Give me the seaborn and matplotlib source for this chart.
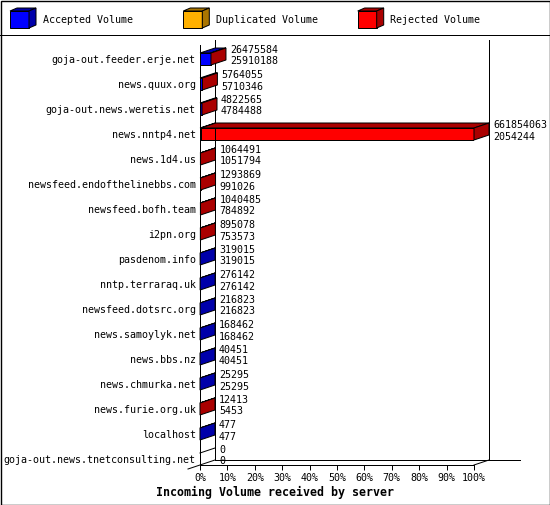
import numpy as np
import pandas as pd
import matplotlib
matplotlib.use("Agg")
import matplotlib.pyplot as plt
import seaborn as sns
from matplotlib.patches import Polygon, Rectangle
from matplotlib.lines import Line2D
from matplotlib.transforms import IdentityTransform

# ---------------- data ----------------
servers = [
    "goja-out.feeder.erje.net", "news.quux.org", "goja-out.news.weretis.net",
    "news.nntp4.net", "news.1d4.us", "newsfeed.endofthelinebbs.com",
    "newsfeed.bofh.team", "i2pn.org", "pasdenom.info", "nntp.terraraq.uk",
    "newsfeed.dotsrc.org", "news.samoylyk.net", "news.bbs.nz",
    "news.chmurka.net", "news.furie.org.uk", "localhost",
    "goja-out.news.tnetconsulting.net",
]
total_volume = [26475584, 5764055, 4822565, 661854063, 1064491, 1293869,
                1040485, 895078, 319015, 276142, 216823, 168462, 40451,
                25295, 12413, 477, 0]
accepted_volume = [25910188, 5710346, 4784488, 2054244, 1051794, 991026,
                   784892, 753573, 319015, 276142, 216823, 168462, 40451,
                   25295, 5453, 477, 0]
duplicated_volume = [0] * len(servers)
legend_labels = ["Accepted Volume", "Duplicated Volume", "Rejected Volume"]
tick_values = [0, 10, 20, 30, 40, 50, 60, 70, 80, 90, 100]
tick_labels = ["0%", "10%", "20%", "30%", "40%", "50%", "60%", "70%",
               "80%", "90%", "100%"]
x_title = "Incoming Volume received by server"

# ---------------- style ----------------
W, H = 550, 505
DPI = 100
DX, DY = 15, 5          # 3-D depth in pixels
FRONT = ["#0000ff", "#ffb000", "#ff0000"]
DARK = ["#0000aa", "#aa7500", "#aa0000"]
MONO = "DejaVu Sans Mono"
FS = 7.2
LW = 0.72

plt.rcParams["font.family"] = MONO

vmax = max(total_volume)
df = pd.DataFrame({
    "server": servers,
    "total_pct": [v / vmax * 100 for v in total_volume],
    "accepted_pct": [v / vmax * 100 for v in accepted_volume],
})

fig = plt.figure(figsize=(W / DPI, H / DPI), dpi=DPI)
fig.patch.set_facecolor("white")
ax = fig.add_axes([200 / W, (H - 465) / H, 274 / W, 420 / H])

BAR_T = 0.48
sns.barplot(data=df, x="total_pct", y="server", orient="h", color=FRONT[2],
            saturation=1, width=BAR_T, edgecolor="black", linewidth=LW,
            errorbar=None, ax=ax, zorder=3)
sns.barplot(data=df, x="accepted_pct", y="server", orient="h", color=FRONT[0],
            saturation=1, width=BAR_T, edgecolor="black", linewidth=LW,
            errorbar=None, ax=ax, zorder=3)

n = len(servers)
ax.set_xlim(0, 100)
ax.set_ylim(16.24, -0.56)
ax.set_facecolor("none")
for s in ["top", "right"]:
    ax.spines[s].set_visible(False)
for s in ["left", "bottom"]:
    ax.spines[s].set_linewidth(LW)
ax.set_xticks(tick_values)
ax.set_xticklabels(tick_labels, fontsize=FS, family=MONO)
ax.tick_params(axis="x", length=5 * 0.72, width=LW, pad=2)
ax.tick_params(axis="y", length=0, pad=3, labelsize=FS)
ax.set_ylabel("")
ax.set_xlabel(x_title, fontsize=8.4, fontweight="bold", family=MONO)
ax.xaxis.set_label_coords((275 - 200) / 274, (465 - 492) / 420)
ax.xaxis.label.set_va("center")

ID = IdentityTransform()
tD = ax.transData


def poly(pts, fc, z=4):
    p = Polygon(pts, closed=True, facecolor=fc, edgecolor="black",
                linewidth=LW, transform=ID, zorder=z, clip_on=False)
    fig.add_artist(p)


def line(xs, ys, z=2):
    fig.add_artist(Line2D(xs, ys, color="black", linewidth=LW,
                          transform=ID, zorder=z))


# back wall / floor lines (derived from the axes box)
bb = ax.get_window_extent()
x0, x1, yb, yt = bb.x0, bb.x1, bb.y0, bb.y1
line([x0 + DX, x0 + DX], [yb + DY, yt + DY])
line([x1 + DX, x1 + DX], [yb + DY, yt + DY])
line([x0 + DX, x1 + DX + 31], [yb + DY, yb + DY])
line([x0 - 12, x0 + DX], [yb - 4, yb + DY])
line([x1, x1 + DX], [yb, yb + DY])

# 3-D faces and value labels
for i in range(n):
    t = df["total_pct"][i]
    a = df["accepted_pct"][i]
    X0, YT = tD.transform((0, i - BAR_T / 2))
    _, YB = tD.transform((0, i + BAR_T / 2))
    _, YC = tD.transform((0, i))
    segs = []
    xa = tD.transform((a, i))[0]
    xt = tD.transform((t, i))[0]
    if accepted_volume[i] > 0:
        segs.append((X0, xa, 0))
    if total_volume[i] - accepted_volume[i] > 0:
        segs.append((xa, xt, 2))
    for (s0, s1, k) in segs:
        poly([(s0, YT), (s1, YT), (s1 + DX, YT + DY), (s0 + DX, YT + DY)], DARK[k])
    if segs:
        s0, s1, k = segs[-1]
        poly([(s1, YT), (s1 + DX, YT + DY), (s1 + DX, YB + DY), (s1, YB)], DARK[k])
        xe = s1
    else:
        line([X0, X0 + DX], [YT, YT + DY], z=4)
        xe = X0
    fig.text(xe + DX + 4, YC + 9, f"{total_volume[i]}", transform=ID,
             fontsize=FS, family=MONO, va="center", ha="left")
    fig.text(xe + DX + 4, YC - 2.5, f"{accepted_volume[i]}", transform=ID,
             fontsize=FS, family=MONO, va="center", ha="left")

# legend (top strip)
def img(x, y):
    return (x, H - y)

for k, (lab, bx) in enumerate(zip(legend_labels, [10, 183.3, 357.7])):
    fx0, fx1, fy0, fy1 = bx, bx + 19, 11, 28
    poly([img(fx0, fy0), img(fx1, fy0), img(fx1, fy1), img(fx0, fy1)], FRONT[k], z=5)
    poly([img(fx0, fy0), img(fx0 + 7, fy0 - 3), img(fx1 + 7, fy0 - 3), img(fx1, fy0)], DARK[k], z=5)
    poly([img(fx1, fy0), img(fx1 + 7, fy0 - 3), img(fx1 + 7, fy1 - 3), img(fx1, fy1)], DARK[k], z=5)
    fig.text(bx + 32.7, H - 20, lab, transform=ID, fontsize=FS, family=MONO,
             va="center", ha="left")

line([0, W], [H - 35, H - 35])
fig.add_artist(Rectangle((0.5, 0.5), W - 1, H - 1, fill=False, edgecolor="black",
                         linewidth=LW * 1.4, transform=ID, zorder=10))

fig.savefig("out.png", dpi=DPI, facecolor="white")
